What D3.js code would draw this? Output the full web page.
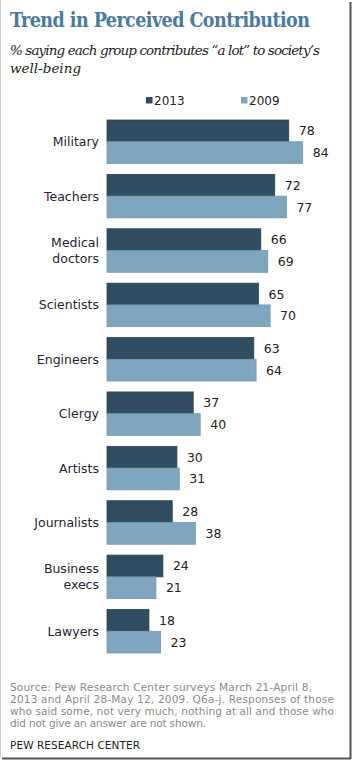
<!DOCTYPE html>
<html lang="en">
  <head>
    <meta charset="utf-8">
    <title>Trend in Perceived Contribution</title>
    <script src="https://d3js.org/d3.v7.min.js"></script>
    <style>
      body { margin: 0; background: #fff; }
    </style>
  </head>
  <body>
    <script type="text/javascript">
      var w = 354;
      var h = 763;

      var categories = ["Military", "Teachers", "Medical doctors", "Scientists", "Engineers",
                        "Clergy", "Artists", "Journalists", "Business execs", "Lawyers"];
      var catLines = [["Military"], ["Teachers"], ["Medical", "doctors"], ["Scientists"], ["Engineers"],
                      ["Clergy"], ["Artists"], ["Journalists"], ["Business", "execs"], ["Lawyers"]];
      var years = ["2013", "2009"];
      var values2013 = [78, 72, 66, 65, 63, 37, 30, 28, 24, 18];
      var values2009 = [84, 77, 69, 70, 64, 40, 31, 38, 21, 23];
      var colors = {"2013": "#314d61", "2009": "#7fa5bf"};
      var sourceLines = ["Source: Pew Research Center surveys March 21-April 8,",
                         "2013 and April 28-May 12, 2009. Q6a-j. Responses of those",
                         "who said some, not very much, nothing at all and those who",
                         "did not give an answer are not shown."];
      var sourceWidths = [302, 324, 324, 196];

      var dataset = categories.map(function(c, i) {
        return {cat: c, lines: catLines[i], vals: {"2013": values2013[i], "2009": values2009[i]}};
      });

      var xScale = d3.scaleLinear().domain([0, 100]).range([107, 340]);
      var yScale = d3.scaleBand()
          .domain(categories)
          .range([120, 653])
          .paddingInner(0.2)
          .paddingOuter(0);
      var ySub = d3.scaleBand().domain(years).range([0, yScale.bandwidth()]);

      var svg = d3.select("body").append("svg")
          .attr("width", w)
          .attr("height", h);

      // frame
      svg.append("line").attr("x1", 350.5).attr("x2", 350.5).attr("y1", 2).attr("y2", 759)
          .attr("stroke", "#555").attr("stroke-width", 2);
      svg.append("line").attr("x1", 2).attr("x2", 351).attr("y1", 758.5).attr("y2", 758.5)
          .attr("stroke", "#555").attr("stroke-width", 2);
      svg.append("line").attr("x1", 0.5).attr("x2", 0.5).attr("y1", 0).attr("y2", 758)
          .attr("stroke", "#ccc").attr("stroke-width", 1);

      // title
      svg.append("text")
          .attr("x", 10).attr("y", 27)
          .attr("font-family", "DejaVu Serif")
          .attr("font-weight", "bold")
          .attr("font-stretch", "condensed")
          .attr("font-size", 19.5)
          .attr("textLength", 300)
          .attr("fill", "#4b7a9c")
          .text("Trend in Perceived Contribution");
      svg.append("text")
          .attr("x", 10).attr("y", 55)
          .attr("font-family", "DejaVu Serif")
          .attr("font-style", "italic")
          .attr("font-size", 13.5)
          .attr("textLength", 310)
          .attr("fill", "#222")
          .text("% saying each group contributes \u201ca lot\u201d to society\u2019s");
      svg.append("text")
          .attr("x", 10).attr("y", 73)
          .attr("font-family", "DejaVu Serif")
          .attr("font-style", "italic")
          .attr("font-size", 13.5)
          .attr("fill", "#222")
          .text("well-being");

      // legend
      var legend = svg.selectAll(".legend")
          .data(years)
          .enter().append("g")
          .attr("transform", function(d, i) { return "translate(" + (146 + i * 95) + ",97)"; });
      legend.append("rect")
          .attr("width", 6.5).attr("height", 6.5)
          .attr("fill", function(d) { return colors[d]; });
      legend.append("text")
          .attr("x", 8).attr("y", 7.5)
          .attr("font-family", "DejaVu Sans")
          .attr("font-size", 12)
          .attr("fill", "#222")
          .text(function(d) { return d; });

      // bars
      var groups = svg.selectAll(".grp")
          .data(dataset)
          .enter().append("g")
          .attr("transform", function(d) { return "translate(0," + yScale(d.cat) + ")"; });

      groups.selectAll("rect")
          .data(function(d) { return years.map(function(y) { return {year: y, v: d.vals[y]}; }); })
          .enter().append("rect")
          .attr("x", xScale(0))
          .attr("y", function(d) { return ySub(d.year); })
          .attr("width", function(d) { return xScale(d.v) - xScale(0); })
          .attr("height", ySub.bandwidth())
          .attr("fill", function(d) { return colors[d.year]; })
          .attr("stroke", function(d) { return d.year === "2013" ? "#2a4254" : "#7399b3"; })
          .attr("stroke-width", 0.8);

      groups.selectAll(".val")
          .data(function(d) { return years.map(function(y) { return {year: y, v: d.vals[y]}; }); })
          .enter().append("text")
          .attr("x", function(d) { return xScale(d.v) + 10; })
          .attr("y", function(d) { return ySub(d.year) + ySub.bandwidth() / 2 + 4.5; })
          .attr("font-family", "DejaVu Sans")
          .attr("font-size", 12.5)
          .attr("fill", "#222")
          .text(function(d) { return d.v; });

      // category labels
      groups.append("text")
          .attr("text-anchor", "end")
          .attr("font-family", "DejaVu Sans")
          .attr("font-size", 12.5)
          .attr("fill", "#2a2233")
          .each(function(d) {
            var t = d3.select(this);
            var mid = yScale.bandwidth() / 2;
            var start = mid + 4.5 - (d.lines.length - 1) * 8;
            d.lines.forEach(function(l, i) {
              t.append("tspan").attr("x", 99).attr("y", start + i * 16).text(l);
            });
          });

      // source
      svg.selectAll(".src")
          .data(sourceLines)
          .enter().append("text")
          .attr("x", 10)
          .attr("y", function(d, i) { return 691 + i * 12; })
          .attr("font-family", "DejaVu Sans")
          .attr("font-size", 10.5)
          .attr("textLength", function(d, i) { return sourceWidths[i]; })
          .attr("lengthAdjust", "spacing")
          .attr("fill", "#8a8a8a")
          .text(function(d) { return d; });
      svg.append("text")
          .attr("x", 10).attr("y", 749)
          .attr("font-family", "DejaVu Sans")
          .attr("font-size", 10.5)
          .attr("textLength", 130)
          .attr("fill", "#222")
          .text("PEW RESEARCH  CENTER");
    </script>
  </body>
</html>
